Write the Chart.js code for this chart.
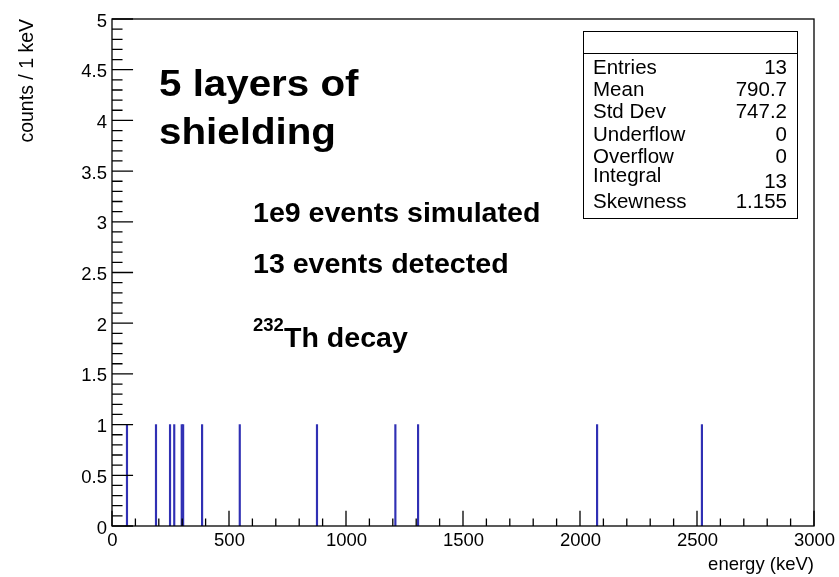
<!DOCTYPE html>
<html>
<head>
<meta charset="utf-8">
<script src="https://cdn.jsdelivr.net/npm/chart.js@4.4.1/dist/chart.umd.min.js"></script>
<style>
  html, body { margin: 0; padding: 0; background: #fff; }
  #wrap { width: 839px; height: 577px; position: relative; }
</style>
</head>
<body>
<div id="wrap"><canvas id="c" width="839" height="577"></canvas></div>
<script>
// Energies (keV) of the detected events; one 1 keV bin each
const energies = [64, 188, 248, 266, 298, 304, 385, 546, 876, 1211, 1308, 2073, 2521];
const counts   = [1, 1, 1, 1, 1, 1, 1, 1, 1, 1, 1, 1, 1];

// Axis ticks and labels
const xTickValues = [0, 500, 1000, 1500, 2000, 2500, 3000];
const xTickLabels = ['0', '500', '1000', '1500', '2000', '2500', '3000'];
const yTickValues = [0, 0.5, 1, 1.5, 2, 2.5, 3, 3.5, 4, 4.5, 5];
const yTickLabels = ['0', '0.5', '1', '1.5', '2', '2.5', '3', '3.5', '4', '4.5', '5'];

// Statistics box
const statNames  = ['Entries', 'Mean', 'Std Dev', 'Underflow', 'Overflow', 'Integral', 'Skewness'];
const statValues = ['13', '790.7', '747.2', '0', '0', '13', '1.155'];

const FONT = '"Liberation Sans", Arial, Helvetica, sans-serif';

function txt(ctx, s, x, y, size, opts) {
  opts = opts || {};
  ctx.save();
  ctx.font = (opts.bold ? 'bold ' : '') + size + 'px ' + FONT;
  ctx.textAlign = opts.align || 'left';
  ctx.textBaseline = 'alphabetic';
  ctx.fillStyle = '#000';
  ctx.translate(x, y);
  if (opts.rot) ctx.rotate(opts.rot);
  ctx.scale(opts.sx || 1, 1);
  ctx.fillText(s, 0, 0);
  ctx.restore();
}

// Frame, inward ticks, labels, stats box and annotations in ROOT style
const rootDecor = {
  id: 'rootDecor',
  afterDraw(chart) {
    const ctx = chart.ctx;
    const xs = chart.scales.x, ys = chart.scales.y;
    const a = chart.chartArea;
    const W = a.right - a.left, H = a.bottom - a.top;

    ctx.save();
    ctx.strokeStyle = '#000';
    ctx.lineWidth = 1.3;
    ctx.strokeRect(a.left, a.top, W, H);

    // x ticks: major + minor every 100 keV
    ctx.beginPath();
    for (let v = xs.min; v <= xs.max + 1e-6; v += 100) {
      const px = xs.getPixelForValue(v);
      const major = xTickValues.includes(v);
      const len = (major ? 0.03 : 0.015) * H;
      ctx.moveTo(px, a.bottom);
      ctx.lineTo(px, a.bottom - len);
    }
    // y ticks: major + minor every 0.1
    for (let i = 0; i <= 50; i++) {
      const v = i / 10;
      const py = ys.getPixelForValue(v);
      const major = i % 5 === 0;
      const len = (major ? 0.03 : 0.015) * W;
      ctx.moveTo(a.left, py);
      ctx.lineTo(a.left + len, py);
    }
    ctx.stroke();
    ctx.restore();

    // tick labels
    xTickValues.forEach((v, i) => {
      txt(ctx, xTickLabels[i], xs.getPixelForValue(v) + 0.5, a.bottom + 19.5, 18.5, { align: 'center' });
    });
    yTickValues.forEach((v, i) => {
      txt(ctx, yTickLabels[i], a.left - 5, ys.getPixelForValue(v) + 7.5, 18.5, { align: 'right' });
    });

    // axis titles
    txt(ctx, 'energy (keV)', a.right, 570, 18.5, { align: 'right' });
    txt(ctx, 'counts / 1 keV', 33, a.top, 19.5, { align: 'right', rot: -Math.PI / 2 });

    // statistics box
    const bx = 583, by = 31, bw = 214, bh = 187;
    ctx.save();
    ctx.fillStyle = '#fff';
    ctx.fillRect(bx, by, bw, bh);
    ctx.strokeStyle = '#000';
    ctx.lineWidth = 1;
    ctx.strokeRect(bx + 0.5, by + 0.5, bw, bh);
    ctx.beginPath();
    ctx.moveTo(bx, 53.5);
    ctx.lineTo(bx + bw, 53.5);
    ctx.stroke();
    ctx.restore();
    const rowBase = [73.5, 95.5, 118, 140.5, 163, 185.5, 207.5];
    statNames.forEach((n, i) => {
      const nameShift = n === 'Integral' ? -4 : 0;
      const valShift = n === 'Integral' ? 2 : 0;
      txt(ctx, n, 593, rowBase[i] + nameShift, 20.5);
      txt(ctx, statValues[i], 787, rowBase[i] + valShift, 20.5, { align: 'right' });
    });

    // annotations
    txt(ctx, '5 layers of', 159, 96, 36, { bold: true, sx: 1.12 });
    txt(ctx, 'shielding', 159, 144, 36, { bold: true, sx: 1.12 });
    txt(ctx, '1e9 events simulated', 253, 222, 28, { bold: true, sx: 1.02 });
    txt(ctx, '13 events detected', 253, 273, 28, { bold: true, sx: 1.02 });
    txt(ctx, '232', 253, 331, 18.5, { bold: true });
    txt(ctx, 'Th decay', 284, 347, 28, { bold: true, sx: 1.02 });
  }
};

new Chart(document.getElementById('c').getContext('2d'), {
  type: 'bar',
  data: {
    datasets: [{
      data: energies.map((e, i) => ({ x: e, y: counts[i] })),
      backgroundColor: '#3030b4',
      borderWidth: 0,
      barThickness: 1.5
    }]
  },
  options: {
    responsive: false,
    animation: false,
    events: [],
    layout: { padding: { left: 112, top: 19, right: 25, bottom: 51 } },
    plugins: { legend: { display: false }, tooltip: { enabled: false } },
    scales: {
      x: { type: 'linear', min: 0, max: 3000, offset: false, display: false },
      y: { min: 0, max: 5, display: false }
    }
  },
  plugins: [rootDecor]
});
</script>
</body>
</html>
